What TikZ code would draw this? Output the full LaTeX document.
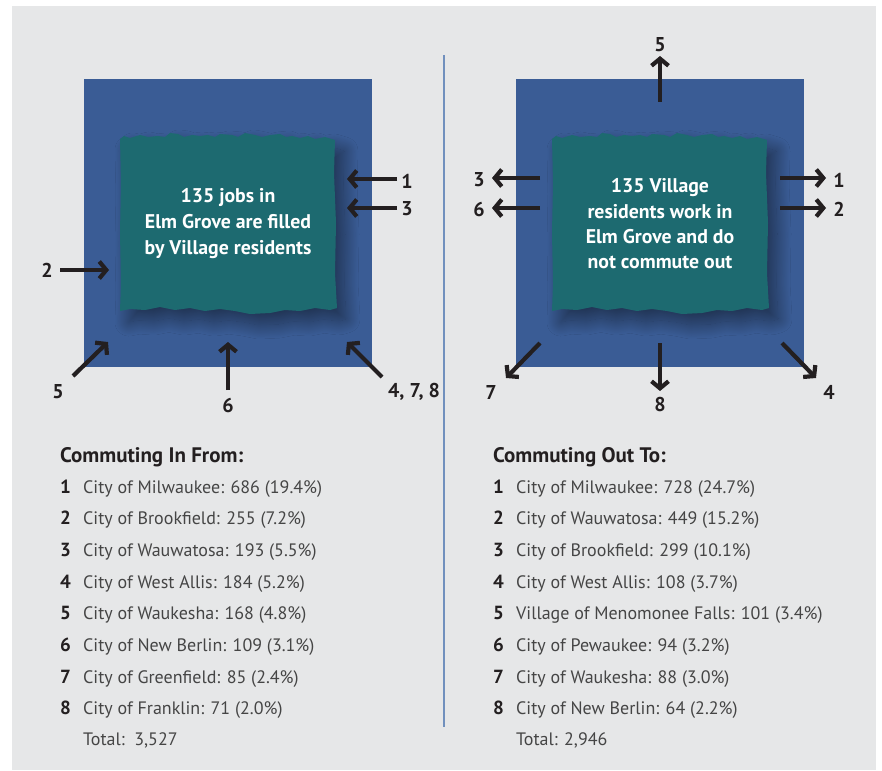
\documentclass[tikz,border=0pt]{standalone}
\usepackage{fontspec}
\setmainfont{PT Sans}
\usetikzlibrary{arrows.meta,shadows.blur}
\definecolor{bggrey}{HTML}{E6E7E8}
\definecolor{boxblue}{HTML}{3A5C95}
\definecolor{teal}{HTML}{1D6A70}
\definecolor{arrowk}{HTML}{231F20}
\definecolor{divider}{HTML}{7190BD}
\definecolor{listtext}{HTML}{454545}
\tikzset{
  flow/.style={draw=arrowk, line width=4.2pt, -{Straight Barb[length=7pt,width=17pt]}},
  numlabel/.style={font=\fontsize{20}{22}\selectfont\bfseries, text=arrowk, inner sep=0pt},
  boxtext/.style={font=\fontsize{19.8}{26}\selectfont\bfseries, text=white, align=center, inner sep=0pt},
  listhead/.style={font=\fontsize{21}{24}\selectfont\bfseries, text=arrowk, anchor=base west, inner sep=0pt},
  listnum/.style={font=\fontsize{19}{22}\selectfont\bfseries, text=arrowk, anchor=base west, inner sep=0pt},
  listitem/.style={font=\fontsize{18}{22}\selectfont, text=listtext, anchor=base west, inner sep=0pt},
  torn/.style={fill=teal, blur shadow={shadow xshift=9pt, shadow yshift=-11pt, shadow blur radius=14pt, shadow blur steps=40, shadow opacity=45}},
}
\newcommand{\tornpath}{(0,6) -- (4,3) -- (10,5) -- (20,2) -- (28,4) -- (38,3) -- (45,4) -- (50,0) -- (58,1) -- (64,4) -- (72,2) -- (80,3) -- (88,2) -- (95,4) -- (100,1) -- (112,2) -- (118,4) -- (125,0) -- (135,2) -- (142,4) -- (150,2) -- (160,1) -- (166,4) -- (172,3) -- (180,5) -- (188,3) -- (195,6) -- (205,4) -- (215,7) -- (214,40) -- (216,90) -- (215,140) -- (217,175) -- (210,177) -- (195,175) -- (180,178) -- (165,177) -- (150,180) -- (130,181) -- (115,178) -- (100,176) -- (85,178) -- (70,175) -- (55,177) -- (40,174) -- (25,177) -- (10,176) -- (0,178) -- (1,150) -- (0,100) -- (1,50) -- cycle}
\begin{document}
\begin{tikzpicture}[x=1pt,y=-1pt]
\useasboundingbox (0,0) rectangle (882,770);
\fill[white] (0,0) rectangle (882,770);
\fill[bggrey] (12,6) rectangle (876,770);
% divider
\draw[divider, line width=2pt] (444,55) -- (444,727);

% ---------- left panel ----------
\fill[boxblue] (84,79) rectangle (372,367);
\begin{scope}[shift={(120,133)}]
  \path[torn] \tornpath;
\end{scope}
\node[boxtext] (intext) at (228,224) {135 jobs in\\Elm Grove are filled\\by Village residents};

\node[numlabel] (inL1) at (407,181) {1};
\node[numlabel] (inL3) at (407,209) {3};
\node[numlabel] (inL2) at (47,270) {2};
\node[numlabel] (inL5) at (58,392) {5};
\node[numlabel] (inL6) at (228,405) {6};
\node[numlabel] (inL478) at (414,392) {4, 7, 8};

\coordinate (a1s) at (397,179); \coordinate (a1e) at (347,179);
\coordinate (a3s) at (397,208); \coordinate (a3e) at (347,208);
\coordinate (a2s) at (60,270);  \coordinate (a2e) at (109,270);
\coordinate (a5s) at (73,376);  \coordinate (a5e) at (108,342);
\coordinate (a6s) at (228,390); \coordinate (a6e) at (228,342);
\coordinate (a4s) at (382,377); \coordinate (a4e) at (347,342);
\draw[flow] (a1s) -- (a1e);
\draw[flow] (a3s) -- (a3e);
\draw[flow] (a2s) -- (a2e);
\draw[flow] (a5s) -- (a5e);
\draw[flow] (a6s) -- (a6e);
\draw[flow] (a4s) -- (a4e);

% ---------- right panel ----------
\fill[boxblue] (516,79) rectangle (804,367);
\begin{scope}[shift={(552,133)}]
  \path[torn] \tornpath;
\end{scope}
\node[boxtext, font=\fontsize{19.8}{25.3}\selectfont\bfseries] (outtext) at (660,224) {135 Village\\residents work in\\Elm Grove and do\\not commute out};

\node[numlabel] (outL5) at (660,45) {5};
\node[numlabel] (outL3) at (479,180) {3};
\node[numlabel] (outL6) at (479,209) {6};
\node[numlabel] (outL1) at (839,180) {1};
\node[numlabel] (outL2) at (839,209) {2};
\node[numlabel] (outL7) at (491,392) {7};
\node[numlabel] (outL8) at (660,404) {8};
\node[numlabel] (outL4) at (829,392) {4};

\coordinate (b5s) at (660,102); \coordinate (b5e) at (660,56);
\coordinate (b3s) at (540,178); \coordinate (b3e) at (492,178);
\coordinate (b6s) at (540,208); \coordinate (b6e) at (492,208);
\coordinate (b1s) at (780,178); \coordinate (b1e) at (826,178);
\coordinate (b2s) at (780,208); \coordinate (b2e) at (826,208);
\coordinate (b7s) at (540,343); \coordinate (b7e) at (506,378);
\coordinate (b8s) at (660,343); \coordinate (b8e) at (660,391);
\coordinate (b4s) at (782,343); \coordinate (b4e) at (816,378);
\draw[flow] (b5s) -- (b5e);
\draw[flow] (b3s) -- (b3e);
\draw[flow] (b6s) -- (b6e);
\draw[flow] (b1s) -- (b1e);
\draw[flow] (b2s) -- (b2e);
\draw[flow] (b7s) -- (b7e);
\draw[flow] (b8s) -- (b8e);
\draw[flow] (b4s) -- (b4e);

% ---------- lists ----------
\node[listhead] (inhead) at (60,462) {Commuting In From:};
\foreach \i/\t in {1/{City of Milwaukee: 686 (19.4\%)},2/{City of Brookfield: 255 (7.2\%)},3/{City of Wauwatosa: 193 (5.5\%)},4/{City of West Allis: 184 (5.2\%)},5/{City of Waukesha: 168 (4.8\%)},6/{City of New Berlin: 109 (3.1\%)},7/{City of Greenfield: 85 (2.4\%)},8/{City of Franklin: 71 (2.0\%)}}{
  \node[listnum] (innum\i) at (60,{493+31.7*(\i-1)}) {\i};
  \node[listitem] (initem\i) at (83,{493+31.7*(\i-1)}) {\t};
}
\node[listitem] (intotal) at (83,745) {Total:\ \ 3,527};

\node[listhead] (outhead) at (493,462) {Commuting Out To:};
\foreach \i/\t in {1/{City of Milwaukee: 728 (24.7\%)},2/{City of Wauwatosa: 449 (15.2\%)},3/{City of Brookfield: 299 (10.1\%)},4/{City of West Allis: 108 (3.7\%)},5/{Village of Menomonee Falls: 101 (3.4\%)},6/{City of Pewaukee: 94 (3.2\%)},7/{City of Waukesha: 88 (3.0\%)},8/{City of New Berlin: 64 (2.2\%)}}{
  \node[listnum] (outnum\i) at (493,{493+31.7*(\i-1)}) {\i};
  \node[listitem] (outitem\i) at (516,{493+31.7*(\i-1)}) {\t};
}
\node[listitem] (outtotal) at (516,745) {Total: 2,946};
\end{tikzpicture}
\end{document}
